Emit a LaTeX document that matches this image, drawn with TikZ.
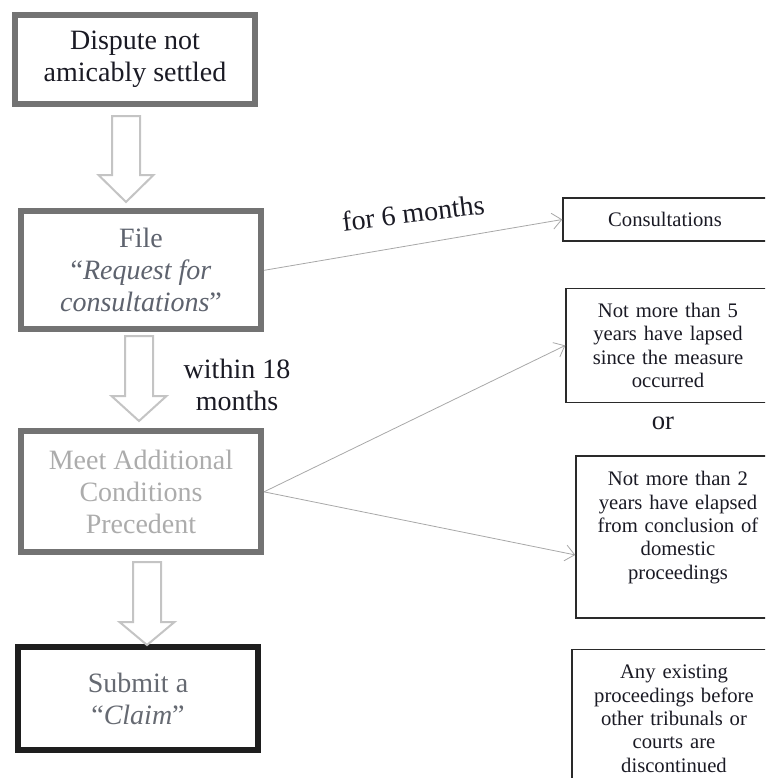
\documentclass[tikz,border=0pt]{standalone}
\usepackage{fontspec}
\setmainfont{Liberation Serif}
\definecolor{stageGray}{HTML}{737373}
\definecolor{claimInk}{HTML}{1E1E1E}
\definecolor{arrowGray}{HTML}{C4C4C4}
\definecolor{connGray}{HTML}{A8A8A8}
\definecolor{condInk}{HTML}{2A2A2A}
\definecolor{textDark}{HTML}{1A1A24}
\definecolor{fileText}{HTML}{5E636E}
\definecolor{meetText}{HTML}{ACACAC}
\definecolor{claimText}{HTML}{666A72}
\usetikzlibrary{arrows.meta, positioning, calc}

\begin{document}
\begin{tikzpicture}[
    x=0.75pt, y=-0.75pt,
    stage/.style={
      draw=stageGray,
      fill=white,
      line width=4.5pt,
      minimum width=180pt,
      inner sep=0pt,
      align=center,
      font=\fontsize{21}{24}\selectfont,
    },
    cond/.style={
      draw=condInk,
      line width=1.1pt,
      minimum width=153pt,
      text width=140pt,
      inner xsep=0pt,
      align=center,
      text=textDark,
      font=\fontsize{15.5}{17.5}\selectfont,
    },
    hollow/.style={draw=arrowGray, fill=white, line width=1.5pt, line join=miter},
    conn/.style={-{Straight Barb[length=7pt, width=12pt]}, draw=connGray, line width=0.6pt},
    lbl/.style={text=textDark, align=center, font=\fontsize{21}{24}\selectfont},
  ]
    \useasboundingbox (0,0) rectangle (765,778);
    \clip (0,0) rectangle (765,778);

    % main column
    \node[stage, minimum height=66.75pt, text=textDark] (dispute) at (135,59.5)
      {Dispute not\\amicably settled};
    \node[stage, minimum height=88.5pt, text=fileText, below=76pt of dispute, xshift=4.5pt] (file)
      {File\\“\textit{Request for}\\\textit{consultations}”};
    \node[stage, minimum height=90.75pt, text=meetText, below=72pt of file] (meet)
      {Meet Additional\\Conditions\\Precedent};
    \node[stage, draw=claimInk, minimum height=77.25pt, text=claimText, below=66.75pt of meet, xshift=-2.25pt] (claim)
      {Submit a\\“\textit{Claim}”};

    % hollow arrows between the stages
    \foreach \cx/\ty/\hy/\py in {126/116/175/202, 139/336/396/421, 147/562/622/645}
      \draw[hollow] (\cx-14,\ty) -- (\cx+14,\ty) -- (\cx+14,\hy) -- (\cx+27.5,\hy)
        -- (\cx,\py) -- (\cx-27.5,\hy) -- (\cx-14,\hy) -- cycle;

    \node[lbl] (within) at (237,385) {within 18\\months};

    % conditions column
    \node[cond, minimum height=32.25pt] (consult) at (665,219.5) {Consultations};
    \node[cond, minimum height=85.5pt, below=34.5pt of consult, xshift=2.25pt] (fiveyrs)
      {Not more than 5\\years have lapsed\\since the measure\\occurred};
    \node[cond, minimum height=121.5pt, below=39pt of fiveyrs, xshift=7.5pt] (twoyrs)
      {Not more than 2\\years have elapsed\\from conclusion of\\domestic\\proceedings\\~};
    \node[cond, minimum height=104pt, below=22.5pt of twoyrs, xshift=-3pt] (anyproc)
      {Any existing\\proceedings before\\other tribunals or\\courts are\\discontinued};
    \node[lbl, font=\fontsize{20}{24}\selectfont] (or) at (663,423) {or};

    % connectors
    \draw[conn] (file.east) -- node[lbl, midway, yshift=24pt, rotate=7] (six) {for 6 months} (consult.west);
    \draw[conn] (meet.east) -- (fiveyrs.west);
    \draw[conn] (meet.east) -- ([yshift=-13.5pt]twoyrs.west);
\end{tikzpicture}
\end{document}
